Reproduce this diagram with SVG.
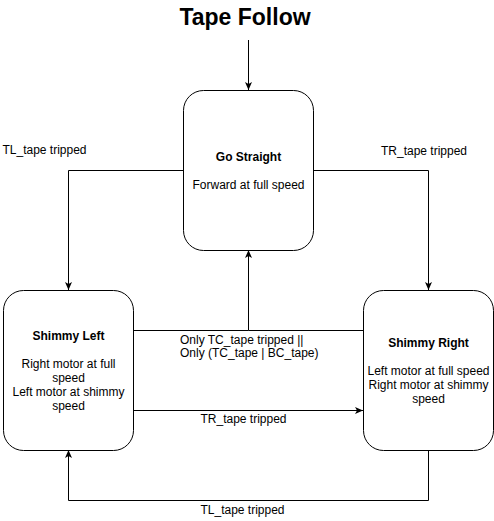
<svg xmlns="http://www.w3.org/2000/svg" width="494" height="521" viewBox="0 0 494 521">
<style>
.node{fill:#fff;stroke:#000;stroke-width:1}
.edge{fill:none;stroke:#000;stroke-width:1}
text{font-family:"Liberation Sans",Arial,sans-serif;font-size:12px;fill:#000}
.t{font-weight:bold}
.c{text-anchor:middle}
.title{font-size:23px;font-weight:bold;text-anchor:middle}
</style>
<defs>
<marker id="arr" markerUnits="userSpaceOnUse" markerWidth="10" markerHeight="10" refX="8" refY="3.5" orient="auto">
<path d="M0,0 L8,3.5 L0,7 L2,3.5 Z" fill="#000"/>
</marker>
</defs>
<rect width="494" height="521" fill="#fff"/>
<text class="title" x="245" y="25">Tape Follow</text>
<g id="connectors">
<path class="edge" d="M248.5,40 V90" marker-end="url(#arr)"/>
<path class="edge" d="M183.5,170.5 H68.5 V290" marker-end="url(#arr)"/>
<path class="edge" d="M313.5,170.5 H428.5 V290" marker-end="url(#arr)"/>
<path class="edge" d="M133.5,330.5 H248.5 V250" marker-end="url(#arr)"/>
<path class="edge" d="M363.5,330.5 H248.5"/>
<path class="edge" d="M133.5,410.5 H363" marker-end="url(#arr)"/>
<path class="edge" d="M428.5,450 V500.5 H68.5 V450" marker-end="url(#arr)"/>
<text x="44.5" y="154" class="c">TL_tape tripped</text>
<text x="424" y="154.5" class="c">TR_tape tripped</text>
<text x="180" y="343.5">Only TC_tape tripped ||</text>
<text x="180" y="356.5">Only (TC_tape | BC_tape)</text>
<text x="243.5" y="423" class="c">TR_tape tripped</text>
<text x="242.5" y="513.5" class="c">TL_tape tripped</text>
</g>
<g id="go-straight">
<rect class="node" x="183.5" y="90.5" width="130" height="160" rx="20" ry="20"/>
<text class="t c" x="248.5" y="160.5">Go Straight</text>
<text class="c" x="248.5" y="188.5">Forward at full speed</text>
</g>
<g id="shimmy-left">
<rect class="node" x="3.5" y="290.5" width="130" height="160" rx="20" ry="20"/>
<text class="t c" x="68.5" y="339.5">Shimmy Left</text>
<text class="c" x="68.5" y="367.5">Right motor at full</text>
<text class="c" x="68.5" y="381.5">speed</text>
<text class="c" x="68.5" y="395.5">Left motor at shimmy</text>
<text class="c" x="68.5" y="409.5">speed</text>
</g>
<g id="shimmy-right">
<rect class="node" x="363.5" y="290.5" width="130" height="160" rx="20" ry="20"/>
<text class="t c" x="428.5" y="346.5">Shimmy Right</text>
<text class="c" x="428.5" y="374.5">Left motor at full speed</text>
<text class="c" x="428.5" y="388.5">Right motor at shimmy</text>
<text class="c" x="428.5" y="402.5">speed</text>
</g>
</svg>
